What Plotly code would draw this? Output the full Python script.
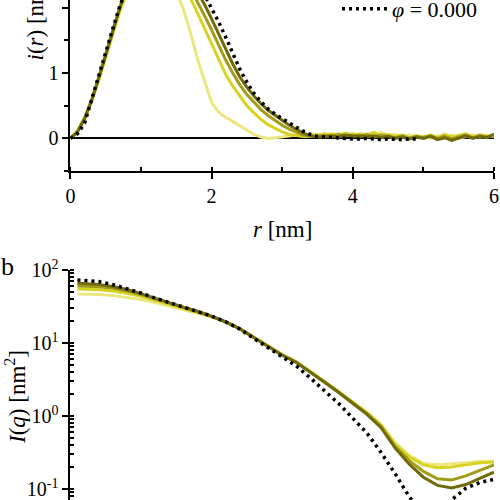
import plotly.graph_objects as go

# ---- panel a : i(r) ----
r_nm = [0.0, 0.1, 0.2, 0.3, 0.4, 0.5, 0.6, 0.7, 0.8, 0.9,
        1.0, 1.1, 1.2, 1.3, 1.4, 1.5, 1.6, 1.7, 1.8, 1.9,
        2.0, 2.1, 2.2, 2.3, 2.4, 2.5, 2.6, 2.7, 2.8, 2.9,
        3.0, 3.1, 3.2, 3.3, 3.4, 3.5, 3.6, 3.7, 3.8, 3.9,
        4.0, 4.1, 4.2, 4.3, 4.4, 4.5, 4.6, 4.7, 4.8, 4.9,
        5.0, 5.1, 5.2, 5.3, 5.4, 5.5, 5.6, 5.7, 5.8, 5.9, 6.0]

ir_phi0 = [0, 0.07, 0.23, 0.6, 0.95, 1.3, 1.68, 2.03, 2.33, 2.58,
           2.77, 2.9, 2.97, 2.98, 2.93, 2.84, 2.71, 2.56, 2.39, 2.2,
           2.0, 1.78, 1.55, 1.3, 1.06, 0.86, 0.69, 0.56, 0.45, 0.37,
           0.3, 0.23, 0.17, 0.11, 0.06, 0.03, 0.02, 0.01, 0.0, 0.0,
           -0.01, -0.01, 0.0, -0.01, -0.02, -0.01, -0.02, -0.02, -0.01, -0.01]

ir_dark = [0, 0.1, 0.3, 0.58, 0.92, 1.27, 1.64, 2.0, 2.31, 2.57,
           2.77, 2.9, 2.96, 2.95, 2.88, 2.76, 2.6, 2.43, 2.24, 2.05,
           1.83, 1.6, 1.36, 1.14, 0.94, 0.78, 0.65, 0.53, 0.43, 0.35,
           0.27, 0.2, 0.14, 0.08, 0.04, 0.02, 0.02, 0.04, 0.02, 0.05,
           0.03, 0.04, 0.02, 0.04, 0.01, 0.03, 0.0, 0.02, -0.01, 0.02,
           0.0, 0.03, -0.02, 0.01, -0.03, 0.0, 0.04, 0.0, 0.03, 0.01, 0.06]

ir_olive = [0, 0.1, 0.3, 0.58, 0.92, 1.27, 1.64, 2.0, 2.3, 2.55,
            2.74, 2.87, 2.92, 2.9, 2.8, 2.66, 2.5, 2.3, 2.1, 1.88,
            1.66, 1.43, 1.2, 1.0, 0.82, 0.67, 0.55, 0.44, 0.35, 0.27,
            0.2, 0.14, 0.09, 0.05, 0.03, 0.03, 0.05, 0.03, 0.06, 0.04,
            0.05, 0.03, 0.06, 0.02, 0.05, 0.03, 0.01, 0.04, 0.0, 0.03,
            0.01, 0.04, 0.0, 0.03, -0.01, 0.02, 0.05, 0.01, 0.04, 0.02, 0.06]

ir_yellow = [0, 0.1, 0.3, 0.57, 0.9, 1.25, 1.62, 1.98, 2.28, 2.52,
             2.7, 2.82, 2.85, 2.8, 2.68, 2.52, 2.34, 2.15, 1.92, 1.68,
             1.44, 1.2, 0.98, 0.8, 0.64, 0.5, 0.39, 0.29, 0.21, 0.15,
             0.1, 0.06, 0.04, 0.03, 0.03, 0.06, 0.04, 0.07, 0.05, 0.08,
             0.04, 0.07, 0.05, 0.09, 0.04, 0.06, 0.03, 0.05, 0.01, 0.04,
             0.02, 0.05, 0.01, 0.06, 0.02, 0.04, 0.07, 0.02, 0.06, 0.03, 0.05]

ir_pale = [0, 0.12, 0.32, 0.57, 0.88, 1.22, 1.58, 1.92, 2.2, 2.42,
           2.56, 2.62, 2.6, 2.5, 2.38, 2.25, 1.98, 1.62, 1.22, 0.88,
           0.55, 0.4, 0.32, 0.26, 0.19, 0.12, 0.06, 0.02, 0.0, 0.01,
           0.02, 0.03, 0.05, 0.04, 0.07, 0.05, 0.08, 0.05, 0.07, 0.04,
           0.08, 0.05, 0.07, 0.04, 0.09, 0.05, 0.06, 0.03, 0.05, 0.02,
           0.03, 0.0, 0.04, 0.01, 0.05, 0.0, 0.03, 0.06, 0.02, 0.05, 0.03]

# ---- panel b : I(q) ----
q_nm = [0.05, 0.1, 0.2, 0.3, 0.4, 0.5, 0.6, 0.7, 0.8, 0.9,
        1.0, 1.1, 1.2, 1.3, 1.4, 1.5, 1.6, 1.7, 1.8, 1.9,
        2.0, 2.1, 2.2, 2.3, 2.4, 2.5, 2.6, 2.7, 2.8, 2.9, 3.0]

Iq_phi0 = [73, 72.1, 69.5, 63.1, 55.6, 48.4, 41.2, 35.9, 31.3, 27.5,
           23.4, 19.5, 15.5, 11.5, 8.6, 6.46, 4.84, 3.31, 2.24, 1.48,
           0.93, 0.585, 0.316, 0.162, 0.078, 0.045, 0.038, 0.071, 0.102, 0.123, 0.135]
Iq_dark = [66, 65.5, 63.5, 59.5, 54, 47.5, 41, 35.5, 31, 27.2,
           23.3, 19.4, 15.6, 11.8, 8.9, 6.8, 5.4, 4.0, 2.9, 2.1,
           1.5, 1.05, 0.69, 0.363, 0.219, 0.145, 0.112, 0.1035, 0.115, 0.141, 0.17]
Iq_olive = [60.5, 60, 58.8, 56, 51.5, 46, 40, 35, 30.8, 27,
            23.2, 19.5, 15.7, 11.9, 9.0, 6.9, 5.5, 4.05, 2.93, 2.12,
            1.53, 1.08, 0.72, 0.38, 0.245, 0.174, 0.138, 0.133, 0.151, 0.182, 0.214]
Iq_yellow = [55, 54.7, 53.8, 51.5, 48, 43.5, 38.5, 34, 30.2, 26.7,
             23.1, 19.5, 15.7, 11.9, 9.0, 6.9, 5.5, 4.07, 2.95, 2.14,
             1.56, 1.11, 0.75, 0.407, 0.275, 0.214, 0.195, 0.2, 0.214, 0.229, 0.234]
Iq_pale = [47, 46.8, 46.2, 44.8, 42.5, 39.5, 35.8, 32.2, 29, 26,
           22.9, 19.4, 15.7, 11.9, 9.0, 6.95, 5.55, 4.1, 2.98, 2.16,
           1.58, 1.13, 0.77, 0.427, 0.288, 0.224, 0.214, 0.219, 0.229, 0.237, 0.24]

colours = {"dark": "#6f6b0b", "olive": "#a29c18", "yellow": "#d8d222", "pale": "#ece77e"}
serif = "Liberation Serif"
dots = "3px,4px"

fig = go.Figure()

series_r = [(ir_pale, "pale"), (ir_yellow, "yellow"), (ir_olive, "olive"), (ir_dark, "dark")]
for vals, key in series_r:
    fig.add_trace(go.Scatter(x=r_nm, y=vals, mode="lines", showlegend=False,
                             line=dict(color=colours[key], width=3), xaxis="x", yaxis="y"))
fig.add_trace(go.Scatter(x=r_nm[:len(ir_phi0)], y=ir_phi0, mode="lines",
                         name="<i>φ</i> = 0.000",
                         line=dict(color="black", width=3.5, dash=dots),
                         xaxis="x", yaxis="y"))

series_q = [(Iq_pale, "pale"), (Iq_yellow, "yellow"), (Iq_olive, "olive"), (Iq_dark, "dark")]
for vals, key in series_q:
    fig.add_trace(go.Scatter(x=q_nm, y=vals, mode="lines", showlegend=False,
                             line=dict(color=colours[key], width=3), xaxis="x2", yaxis="y2"))
fig.add_trace(go.Scatter(x=q_nm, y=Iq_phi0, mode="lines", showlegend=False,
                         line=dict(color="black", width=3.5, dash=dots),
                         xaxis="x2", yaxis="y2"))

dom_x = [70.4 / 500, 494 / 500]
axis_common = dict(showline=True, linecolor="black", linewidth=2, showgrid=False,
                   ticks="outside", tickcolor="black", tickwidth=2, ticklen=6,
                   tickfont=dict(family=serif, size=20, color="black"))

fig.update_layout(
    width=500, height=500,
    margin=dict(l=0, r=0, t=0, b=0, autoexpand=False),
    paper_bgcolor="white", plot_bgcolor="white",
    font=dict(family=serif, size=20, color="black"),
    xaxis=dict(domain=dom_x, range=[0, 6], anchor="y", tickvals=[0, 2, 4, 6],
               zeroline=False, minor=dict(dtick=1, ticks="inside", ticklen=4, tickwidth=2, tickcolor="black"),
               **axis_common),
    yaxis=dict(domain=[1 - 171 / 500, 1], range=[-0.5, 2.12], anchor="x", tickvals=[0, 1, 2],
               zeroline=True, zerolinecolor="black", zerolinewidth=2,
               minor=dict(dtick=0.5, ticks="outside", ticklen=4, tickwidth=2, tickcolor="black"),
               **axis_common),
    xaxis2=dict(domain=dom_x, range=[0, 3], anchor="y2", visible=False),
    yaxis2=dict(domain=[0, 1 - 270 / 500], type="log", range=[-1.151, 2.0], anchor="x2",
                tickvals=[0.1, 1, 10, 100],
                ticktext=["10<sup>-1</sup>", "10<sup>0</sup>", "10<sup>1</sup>", "10<sup>2</sup>"],
                zeroline=False,
                minor=dict(dtick="D1", ticks="inside", ticklen=4, tickwidth=1.5, tickcolor="black"),
                **axis_common),
    legend=dict(x=0.966, xanchor="right", y=1.024, yanchor="top", bgcolor="rgba(0,0,0,0)",
                font=dict(family=serif, size=22, color="black"), itemwidth=45),
)

fig.add_annotation(text="<i>i</i>(<i>r</i>) [nm]", textangle=-90, xref="paper", yref="paper",
                   x=35 / 500, y=1 - 63 / 500, xanchor="center", yanchor="bottom",
                   showarrow=False, font=dict(family=serif, size=23))
fig.add_annotation(text="<i>r</i> [nm]", xref="paper", yref="paper",
                   x=282 / 500, y=1 - 230 / 500, xanchor="center", yanchor="middle",
                   showarrow=False, font=dict(family=serif, size=23))
fig.add_annotation(text="<i>I</i>(<i>q</i>) [nm<sup>2</sup>]", textangle=-90, xref="paper", yref="paper",
                   x=15 / 500, y=1 - 397 / 500, xanchor="center", yanchor="middle",
                   showarrow=False, font=dict(family=serif, size=23))
fig.add_annotation(text="b", xref="paper", yref="paper",
                   x=7 / 500, y=1 - 266 / 500, xanchor="center", yanchor="middle",
                   showarrow=False, font=dict(family=serif, size=26))

# the page has a default 8px body margin; drop it so the figure sits at the corner
fig.write_html("out.html", config={"displayModeBar": False},
               post_script="document.body.style.margin='0';")
